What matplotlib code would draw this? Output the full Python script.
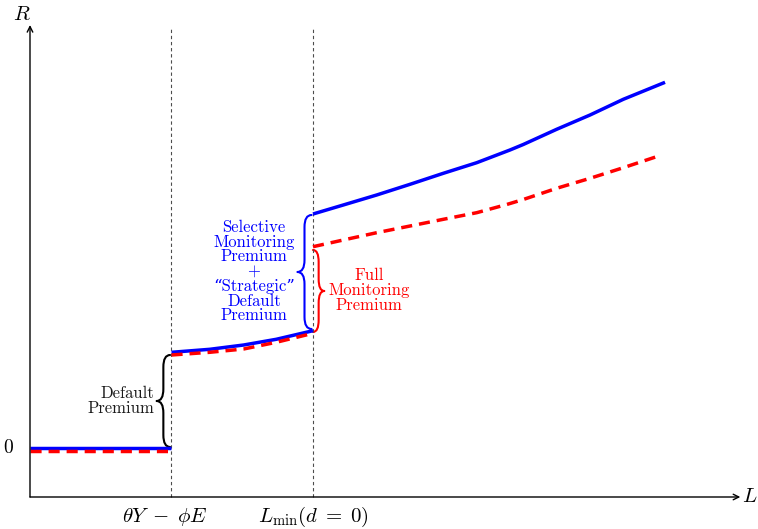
import numpy as np
import matplotlib.pyplot as plt
from matplotlib.path import Path
from matplotlib.patches import PathPatch

plt.rcParams['mathtext.fontset'] = 'cm'
plt.rcParams['font.family'] = ['cmr10', 'DejaVu Serif']
plt.rcParams['axes.formatter.use_mathtext'] = True

# thresholds on the L axis
L_default = 1.0
L_min = 2.0

# selective monitoring (blue, solid)
blue_L1 = [0.0, 1.0]
blue_R1 = [0.0, 0.0]
blue_L2 = [1.0, 1.27, 1.51, 1.74, 2.0]
blue_R2 = [0.957, 0.987, 1.03, 1.087, 1.173]
blue_L3 = [2.0, 2.214, 2.45, 2.686, 2.921, 3.157, 3.392, 3.486, 3.722,
           3.958, 4.193, 4.488]
blue_R3 = [2.34, 2.43, 2.53, 2.637, 2.747, 2.853, 2.98, 3.035, 3.187,
           3.33, 3.487, 3.657]

# full monitoring (red, dashed)
red_L1 = [0.0, 1.0]
red_R1 = [-0.03, -0.03]
red_L2 = [1.0, 1.27, 1.51, 1.74, 2.0]
red_R2 = [0.93, 0.957, 0.99, 1.057, 1.147]
red_L3 = [2.0, 2.214, 2.45, 2.686, 2.921, 3.157, 3.369, 3.486, 3.722,
          3.958, 4.193, 4.464]
red_R3 = [2.013, 2.08, 2.153, 2.22, 2.287, 2.353, 2.435, 2.485, 2.597,
          2.697, 2.803, 2.93]

xtick_labels = [r'$\theta Y\;-\;\phi E$', r'$L_{\min}(d\;=\;0)$']
xtick_pos = [0.955, 2.0]


def brace(ax, x, y0, y1, w, color):
    # vertical curly brace, tip direction given by sign of w
    ym = (y0 + y1) / 2
    s = np.sign(y1 - y0)
    r = min(0.12, abs(y1 - y0) / 4)
    h = w / 2
    verts = [(x, y0), (x + h, y0), (x + h, y0 + s * r),
             (x + h, ym - s * r),
             (x + h, ym), (x + w, ym),
             (x + h, ym), (x + h, ym + s * r),
             (x + h, y1 - s * r),
             (x + h, y1), (x, y1)]
    codes = [Path.MOVETO, Path.CURVE3, Path.CURVE3, Path.LINETO,
             Path.CURVE3, Path.CURVE3, Path.CURVE3, Path.CURVE3,
             Path.LINETO, Path.CURVE3, Path.CURVE3]
    ax.add_patch(PathPatch(Path(verts, codes), fc='none', ec=color, lw=1.5,
                           capstyle='round', joinstyle='round'))


fig = plt.figure(figsize=(7.58, 5.29), dpi=100)
ax = fig.add_axes([0, 0, 1, 1])
ax.set_xlim(-0.212, 5.145)
ax.set_ylim(-0.81, 4.48)
ax.axis('off')

y_axis = -0.49
# axes arrows
ax.annotate('', xy=(5.02, y_axis), xytext=(0, y_axis),
            arrowprops=dict(arrowstyle='->', lw=1.0, color='black', shrinkA=0, shrinkB=0))
ax.annotate('', xy=(0, 4.23), xytext=(0, y_axis),
            arrowprops=dict(arrowstyle='->', lw=1.0, color='black', shrinkA=0, shrinkB=0))
ax.text(-0.06, 4.33, '$R$', fontsize=15, ha='center', va='center')
ax.text(5.09, y_axis, '$L$', fontsize=15, ha='center', va='center')
ax.text(-0.15, 0.0, '$0$', fontsize=14, ha='center', va='center')

# vertical guides
for xv in [L_default, L_min]:
    ax.plot([xv, xv], [y_axis, 4.2], color='0.3', lw=0.8, ls=(0, (3, 2.5)))

for xv, lab in zip(xtick_pos, xtick_labels):
    ax.text(xv, -0.69, lab, fontsize=15, ha='center', va='center')

# curves
for Lx, Rx in [(blue_L1, blue_R1), (blue_L2, blue_R2), (blue_L3, blue_R3)]:
    ax.plot(Lx, Rx, color='blue', lw=2.5, solid_capstyle='butt',
            solid_joinstyle='round')
for Lx, Rx in [(red_L1, red_R1), (red_L2, red_R2), (red_L3, red_R3)]:
    ax.plot(Lx, Rx, color='red', lw=2.5, ls=(0, (3.2, 2)), dash_capstyle='butt')

# braces and labels
brace(ax, 0.99, 0.93, 0.01, -0.095, 'black')
ax.text(0.876, 0.47, 'Default\nPremium', fontsize=12, ha='right', va='center',
        linespacing=0.98, color='0.1')

brace(ax, 1.99, 2.33, 1.19, -0.10, 'blue')
ax.text(1.583, 1.765, 'Selective\nMonitoring\nPremium\n+\n\u201cStrategic\u201d\nDefault\nPremium',
        fontsize=12, ha='center', va='center', linespacing=0.95, color='blue')

brace(ax, 2.0, 1.98, 1.16, 0.08, 'red')
ax.text(2.396, 1.58, 'Full\nMonitoring\nPremium', fontsize=12, ha='center',
        va='center', linespacing=0.98, color='red')

plt.savefig('out.png', dpi=100)
